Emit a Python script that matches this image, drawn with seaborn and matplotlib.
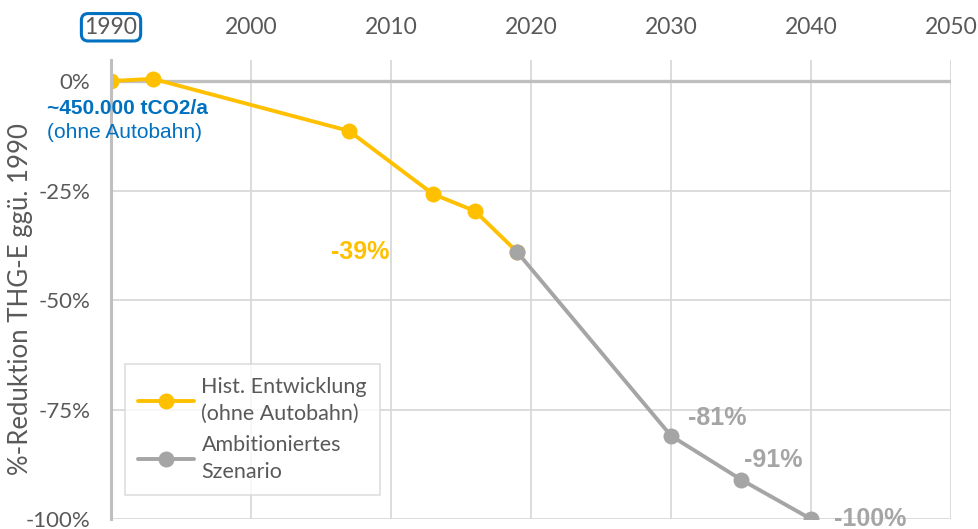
import pandas as pd
import numpy as np
import matplotlib.pyplot as plt
import seaborn as sns

# Data
hist_years = [1990, 1993, 2007, 2013, 2016, 2019]
hist_values = [0.0, 0.5, -11.4, -25.8, -29.7, -39.0]
scen_years = [2019, 2030, 2035, 2040]
scen_values = [-39.0, -81.0, -91.0, -100.0]
x_ticks = [1990, 2000, 2010, 2020, 2030, 2040, 2050]
y_ticks = [0, -25, -50, -75, -100]

hist_label = "Hist. Entwicklung\n(ohne Autobahn)"
scen_label = "Ambitioniertes\nSzenario"

yellow = "#FFC000"
grey = "#A5A5A5"
blue = "#0070C0"
text_grey = "#595959"

sns.set_style("white")
plt.rcParams['font.family'] = ['Lato', 'DejaVu Sans']

df = pd.concat([
    pd.DataFrame({'Jahr': hist_years, 'Wert': hist_values, 'Reihe': hist_label}),
    pd.DataFrame({'Jahr': scen_years, 'Wert': scen_values, 'Reihe': scen_label}),
])

fig = plt.figure(figsize=(9.79, 5.29), dpi=100)
ax = fig.add_axes([0.1134, 0.0189, 0.858, 0.8677])

sns.lineplot(data=df, x='Jahr', y='Wert', hue='Reihe', palette=[yellow, grey],
             marker='o', markersize=11.5, markeredgewidth=0, linewidth=2.8,
             sort=False, ax=ax)

ax.set_xlim(1990, 2050)
ax.set_ylim(-100, 4.8)
ax.set_xticks(x_ticks)
ax.set_yticks(y_ticks)
ax.set_yticklabels([f"{v}%" for v in y_ticks])
ax.xaxis.tick_top()
ax.tick_params(axis='x', length=0, pad=16, labelsize=16.5, labelcolor=text_grey)
ax.tick_params(axis='y', length=0, pad=15, labelsize=16, labelcolor=text_grey)
ax.grid(True, color="#D9D9D9", linewidth=1.3)
ax.set_axisbelow(True)
for s in ['top', 'right', 'bottom']:
    ax.spines[s].set_visible(False)
ax.spines['left'].set_color("#BFBFBF")
ax.spines['left'].set_linewidth(2.2)
ax.axhline(0, color="#BFBFBF", linewidth=2.4, zorder=1)
ax.set_xlabel('')
ax.set_ylabel('%-Reduktion THG-E ggü. 1990', fontsize=18.5, color=text_grey)
ax.yaxis.set_label_coords(-0.093, 0.48)

# boxed 1990 tick label
ax.get_xticklabels()[0].set_bbox(dict(boxstyle='round,pad=0.14,rounding_size=0.3',
                                      facecolor='none', edgecolor=blue, linewidth=2.2))

leg = ax.legend(loc='lower left', bbox_to_anchor=(0.0167, 0.052), fontsize=15.5,
                frameon=True, fancybox=False, edgecolor="#D9D9D9",
                labelcolor=text_grey, handlelength=2.6, borderpad=0.6,
                labelspacing=0.5, handletextpad=0.35, borderaxespad=0)
leg.get_frame().set_linewidth(1.3)
for t in leg.get_texts():
    t.set_linespacing(1.45)

# data labels
bold = dict(fontsize=18, fontweight='bold', family=['Liberation Sans', 'DejaVu Sans'])
ax.text(2007.8, -39, "-39%", color=yellow, ha='center', va='center', **bold)
ax.text(2033.3, -77, "-81%", color=grey, ha='center', va='center', **bold)
ax.text(2037.3, -86.5, "-91%", color=grey, ha='center', va='center', **bold)
ax.text(2044.2, -100, "-100%", color=grey, ha='center', va='center', clip_on=False, **bold)

fig.text(47 / 979, 1 - 108 / 529, "~450.000 tCO2/a", color=blue, ha='left', va='center',
         fontsize=15, fontweight='bold', family=['Liberation Sans', 'DejaVu Sans'])
fig.text(47 / 979, 1 - 133 / 529, "(ohne Autobahn)", color=blue, ha='left', va='center',
         fontsize=15, family=['Liberation Sans', 'DejaVu Sans'])

plt.savefig("out.png", dpi=100)
